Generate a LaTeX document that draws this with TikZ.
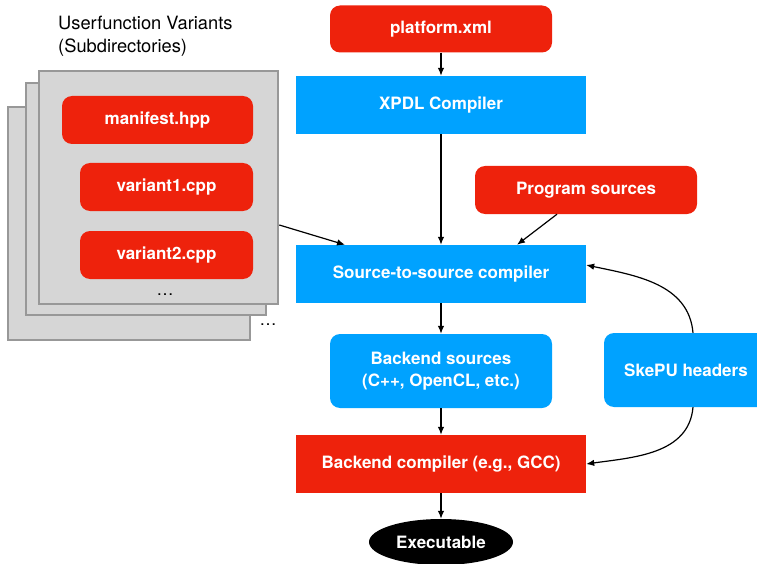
\documentclass[tikz,border=0pt]{standalone}
\usepackage{fontspec}
\setmainfont{TeX Gyre Heros}
\usetikzlibrary{arrows.meta,shapes.geometric}
\definecolor{rojo}{HTML}{EE220C}
\definecolor{azul}{HTML}{00A2FF}
\definecolor{grisfondo}{HTML}{D6D6D6}
\definecolor{grisborde}{HTML}{989898}

\begin{document}
\begin{tikzpicture}[x=1pt, y=-1pt,
  caja/.style={fill=#1, text=white, inner sep=0pt, align=center,
    font=\fontsize{17}{21.5}\selectfont\bfseries},
  redonda/.style={caja=#1, rounded corners=10pt},
  carpeta/.style={draw=grisborde, fill=grisfondo, line width=2.6pt},
  flecha/.style={-{Latex[length=8pt,width=6.5pt]}, line width=1.2pt}]

 % --- MARCO (tamaño de la imagen) ---
 \useasboundingbox (0,0) rectangle (757,564);

 % --- VARIANTES (subdirectorios apilados) ---
 \node at (58,16) [anchor=north west, inner sep=0pt, align=left,
   font=\fontsize{18.3}{22.5}\selectfont] (titulo)
   {Userfunction Variants\\(Subdirectories)};
 \draw[carpeta] (8,107) rectangle (250,340);
 \draw[carpeta] (26,83) rectangle (266,315);
 \node[carpeta, minimum width=239pt, minimum height=233pt] (dir) at (158.5,187.5) {};

 \node[redonda=rojo, minimum width=191pt, minimum height=48pt] (manifest) at (157.5,120) {manifest.hpp};
 \node[redonda=rojo, minimum width=173pt, minimum height=48pt] (var1) at (166.5,187) {variant1.cpp};
 \node[redonda=rojo, minimum width=173pt, minimum height=48pt] (var2) at (166.5,255) {variant2.cpp};
 \node[font=\fontsize{17}{20}\selectfont] (puntosA) at (165,295) {\dots};
 \node[font=\fontsize{17}{20}\selectfont] (puntosB) at (268,325) {\dots};

 % --- FLUJO PRINCIPAL ---
 \node[redonda=rojo, minimum width=222pt, minimum height=47pt] (plat) at (441,29) {platform.xml};
 \node[caja=azul, minimum width=290pt, minimum height=58pt] (xpdl) at (441,105) {XPDL Compiler};
 \node[redonda=rojo, minimum width=222pt, minimum height=48pt] (prog) at (586,190) {Program sources};
 \node[caja=azul, minimum width=290pt, minimum height=58pt] (s2s) at (441,274) {Source-to-source compiler};
 \node[redonda=azul, minimum width=222pt, minimum height=74pt] (bsrc) at (441,371) {Backend sources\\(C++, OpenCL, etc.)};
 \node[caja=rojo, minimum width=290pt, minimum height=58pt] (bcomp) at (441,464) {Backend compiler (e.g., GCC)};
 \node[caja=black, ellipse, minimum width=144pt, minimum height=46pt] (exe) at (441,542) {Executable};

 % SkePU (queda cortado por el borde derecho)
 \node[redonda=azul, minimum width=164pt, minimum height=74pt] (skepu) at (686,370) {SkePU headers};

 % --- FLECHAS ---
 \draw[flecha] (plat) -- (xpdl);
 \draw[flecha] (xpdl) -- (s2s);
 \draw[flecha] (s2s) -- (bsrc);
 \draw[flecha] (bsrc) -- (bcomp);
 \draw[flecha] (bcomp) -- (exe);
 \draw[flecha] ([yshift=-37.5pt]dir.east) -- ([xshift=-96pt]s2s.north);
 \draw[flecha] ([xshift=-29pt]prog.south) -- ([xshift=76pt]s2s.north);

 % curvas desde los headers
 \draw[flecha] ([xshift=7pt]skepu.north) to[out=95, in=-12] ([yshift=9pt]s2s.east);
 \draw[flecha] ([xshift=7pt]skepu.south) to[out=-95, in=8] (bcomp.east);

\end{tikzpicture}
\end{document}
